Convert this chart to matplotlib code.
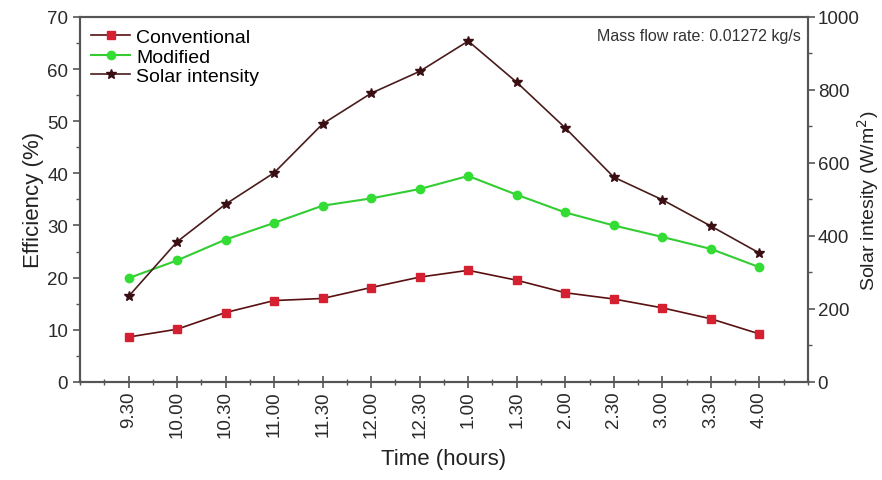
import matplotlib.pyplot as plt
from matplotlib.ticker import MultipleLocator

plt.rcParams['font.family'] = ['Liberation Sans', 'DejaVu Sans']

# Data
times = ['9.30', '10.00', '10.30', '11.00', '11.30', '12.00', '12.30',
         '1.00', '1.30', '2.00', '2.30', '3.00', '3.30', '4.00']
conventional = [8.6, 10.1, 13.3, 15.6, 16.0, 18.1, 20.1, 21.4, 19.5, 17.1, 15.9, 14.2, 12.1, 9.2]
modified = [19.9, 23.3, 27.3, 30.5, 33.8, 35.2, 37.0, 39.5, 35.9, 32.5, 30.0, 27.8, 25.5, 22.0]
solar = [234, 384, 487, 573, 707, 791, 851, 934, 821, 696, 561, 499, 427, 353]

x = list(range(1, len(times) + 1))

fig = plt.figure(figsize=(8.82, 4.81), dpi=100)
ax = fig.add_axes([0.0907, 0.204, 0.8253, 0.7586])
ax2 = ax.twinx()

l1, = ax.plot(x, conventional, color='#5a1010', lw=1.2, marker='s', ms=6,
              mfc='#d42030', mec='#d42030', label='Conventional')
l2, = ax.plot(x, modified, color='#33cc33', lw=1.5, marker='o', ms=6,
              mfc='#33dd33', mec='#33dd33', label='Modified')
l3, = ax2.plot(x, solar, color='#4a1c1c', lw=1.2, marker='*', ms=7,
               mfc='#3a0f14', mec='#3a0f14', label='Solar intensity')

ax.set_xlim(0, 15)
ax.set_ylim(0, 70)
ax2.set_ylim(0, 1000)
ax.set_xticks(x)
ax.set_xticklabels(times, rotation=90)
ax.xaxis.set_minor_locator(MultipleLocator(0.5))
ax.yaxis.set_major_locator(MultipleLocator(10))
ax.yaxis.set_minor_locator(MultipleLocator(5))
ax2.yaxis.set_major_locator(MultipleLocator(200))
ax2.yaxis.set_minor_locator(MultipleLocator(100))

spine_c = '#555555'
for a in (ax, ax2):
    for s in a.spines.values():
        s.set_color(spine_c)
        s.set_linewidth(1.5)
    a.tick_params(which='both', colors=spine_c, labelcolor='#2a2a2a', labelsize=13.5)
    a.tick_params(which='major', length=5, width=1.2)
    a.tick_params(which='minor', length=3, width=1.0)
ax.tick_params(axis='x', which='both', direction='inout')
ax.tick_params(axis='x', which='major', length=8, pad=2)
ax.tick_params(axis='x', which='minor', length=5)
ax2.tick_params(axis='y', which='major', pad=2)

ax.set_xlabel('Time (hours)', fontsize=16, color='#222222', labelpad=8)
ax.set_ylabel('Efficiency (%)', fontsize=16, color='#222222', labelpad=2)
ax2.set_ylabel('Solar intesity (W/m$^2$)', fontsize=14, color='#222222', labelpad=-3)

ax.legend(handles=[l1, l2, l3], loc='upper left', frameon=False, fontsize=14,
          handlelength=2.0, handletextpad=0.3, labelspacing=0.1,
          borderaxespad=0.0, bbox_to_anchor=(0.005, 0.99))
ax.text(0.99, 0.95, 'Mass flow rate: 0.01272 kg/s', transform=ax.transAxes,
        ha='right', va='center', fontsize=11.5, color='#333333')

fig.savefig('out.png', dpi=100)
